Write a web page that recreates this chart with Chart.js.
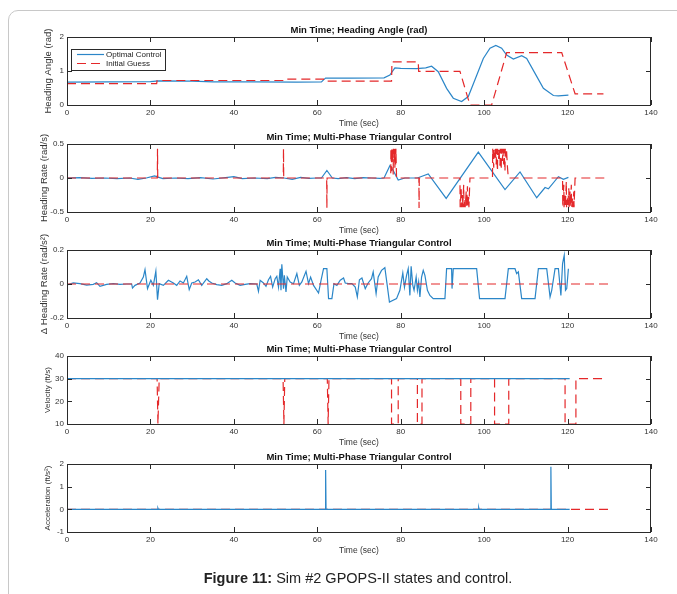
<!DOCTYPE html>
<html><head><meta charset="utf-8">
<script src="https://cdn.jsdelivr.net/npm/chart.js@4.4.0/dist/chart.umd.min.js"></script>
<style>
body{margin:0;background:#fff;width:677px;height:594px;overflow:hidden;position:relative;font-family:"Liberation Sans",Arial,sans-serif}
#frame{position:absolute;left:8px;top:10px;width:720px;height:640px;border:1px solid #c8c8c8;border-radius:10px}
canvas{position:absolute;left:0}
#cap{position:absolute;left:0;width:716px;top:570px;text-align:center;font-size:14.5px;color:#222}
</style></head>
<body>
<div id="frame"></div>
<canvas id="c1" width="677" height="112" style="top:20px"></canvas>
<canvas id="c2" width="677" height="112" style="top:127px"></canvas>
<canvas id="c3" width="677" height="112" style="top:233px"></canvas>
<canvas id="c4" width="677" height="112" style="top:339px"></canvas>
<canvas id="c5" width="677" height="112" style="top:447px"></canvas>
<div id="cap"><b>Figure 11:</b> Sim #2 GPOPS-II states and control.</div>
<script>
// ---- data ----
const angleT=[0,10,20,22,30,35,45,55,61,61.5,62,68,76,77.4,78.6,80,83.8,86,87.4,89,91,92.6,94.6,96.2,97.8,99.8,101.4,102.8,104.2,105.4,107,109,110.2,112.2,114.2,116.6,117.8,120.2];
const angleOpt=[0.67,0.68,0.69,0.71,0.70,0.68,0.68,0.67,0.68,0.74,0.79,0.79,0.80,0.88,1.09,1.08,1.07,1.09,1.14,0.98,0.49,0.2,0.1,0.25,0.74,1.37,1.67,1.75,1.67,1.47,1.35,1.45,1.37,0.93,0.49,0.28,0.27,0.29];
const angleGuessT=[0,21.5,21.6,51.9,52.0,61.5,61.6,77.8,77.9,84.2,84.3,94.2,96.6,101.8,105.4,118.6,121.8,128.6];
const angleGuess=[0.63,0.63,0.72,0.72,0.76,0.76,0.70,0.70,1.27,1.27,0.99,0.99,0,0,1.54,1.54,0.33,0.33];

const rateT=[0,3,6,9,12,15,17,19,21,22,23,26,29,32,35,38,40,42,45,48,50,52,54,56,58,60,61,62.3,63.6,65,67,69,71,73,75,76,77.4,78.2,79.4,81,84,86.6,90.9,98.6,105,108.6,112.6,114.6,115.4,117.8,119,120.2];
const rateOpt=[0,0.005,-0.005,0,-0.01,0,-0.02,0,0.03,0.01,-0.01,0,-0.01,0.005,-0.015,0.005,0.02,-0.01,0,-0.01,0.01,0,-0.02,0.01,-0.005,0,0,0.11,0,-0.01,0.005,-0.01,0.005,0,-0.005,0,0.18,0.11,-0.03,0,0,0.06,-0.30,0.38,-0.17,0.09,-0.29,-0.14,-0.16,0.02,-0.02,0.01];
const rateGuessT=[0,21.65,21.7,21.75,51.85,51.9,51.95,62.25,62.3,62.35,
 77.6,77.65,77.8,77.85,78.0,78.05,78.2,78.25,78.4,78.45,78.6,78.65,78.8,78.85,79.0,
 84.35,84.4,84.45,
 94.2,94.25,94.5,94.55,94.8,94.85,95.1,95.15,95.4,95.45,95.7,95.75,96.0,96.05,96.3,96.35,96.6,
 102.0,102.05,102.3,102.35,102.6,102.65,102.9,102.95,103.2,103.25,103.5,103.55,103.8,103.85,104.1,104.15,104.4,104.45,104.7,104.75,105.0,105.05,105.3,105.35,105.6,105.8,
 118.8,118.85,119.1,119.15,119.4,119.45,119.7,119.75,120.0,120.05,120.3,120.35,120.6,120.65,120.9,120.95,121.2,121.25,121.5,121.55,121.8,130];
const rateGuess=[0,0,0.43,0,0,0.43,0,0,-0.44,0,
 0,0.43,0.1,0.43,0.25,0.43,0.05,0.43,0.3,0.43,0.15,0.43,0.2,0.43,0,
 0,-0.44,0,
 0,-0.43,-0.15,-0.43,-0.25,-0.43,-0.1,-0.43,-0.3,-0.43,-0.2,-0.43,-0.12,-0.43,-0.28,-0.43,0,
 0,0.43,0.15,0.43,0.3,0.43,0.2,0.43,0.1,0.43,0.28,0.43,0.18,0.43,0.12,0.43,0.25,0.43,0.2,0.43,0.1,0.43,0.3,0.43,0.15,0,
 0,-0.43,-0.1,-0.43,-0.25,-0.43,-0.05,-0.43,-0.3,-0.43,-0.15,-0.43,-0.2,-0.43,-0.1,-0.43,-0.3,-0.43,-0.2,-0.43,0,0];

const drateT=[0.3,1.5,3.1,4.7,6.3,7.1,7.9,9.5,11.1,12.7,14.3,15.5,15.7,16.3,17.5,18.3,18.7,19.3,20.1,20.7,21.3,21.7,22.1,23.1,24.3,25.5,26.3,27.1,27.9,28.7,29.3,29.9,30.7,31.5,32.3,33.5,34.0,34.7,35.9,37.1,38.3,39.5,40.3,41.5,42.7,43.9,45.5,45.9,46.3,47.1,47.7,48.3,48.8,49.3,49.9,50.3,50.7,51.1,51.3,51.5,51.9,52.1,52.5,52.8,53.5,54.3,55.1,55.7,56.3,57.3,57.9,58.4,59.1,60.3,60.9,61.5,62.3,62.7,63.5,64.0,64.7,65.5,66.3,66.7,67.5,68.3,69.1,69.6,70.1,70.7,71.5,72.2,73.0,73.4,74.1,74.6,75.4,76.2,77.3,79.0,79.8,80.5,80.9,81.4,81.8,82.2,82.5,82.9,83.2,83.7,84.0,84.3,84.6,85.0,85.4,85.8,86.4,87.0,87.8,89.4,90.6,91.0,92.2,92.3,92.6,98.2,98.9,105.0,105.8,107.4,107.8,108.2,109.0,112.2,113.0,115.0,115.8,116.2,117.0,117.8,118.4,118.8,119.2,119.5,119.8,120.2];
const drateOpt=[-0.004,0.006,0.002,-0.006,-0.002,0.008,-0.014,-0.002,0.002,-0.002,0,0,-0.024,-0.008,0.006,0.041,0.084,-0.027,0.022,-0.008,0.076,-0.092,0.002,-0.008,0.022,0.006,-0.008,0.018,0.006,0.045,-0.033,0.006,0.012,0.025,-0.008,0.031,0.018,0.006,-0.004,-0.008,0.002,0.022,0.006,-0.008,-0.002,0.002,0,-0.043,0.022,0.006,-0.014,0.025,0.045,-0.018,0.031,0.045,-0.018,0.09,-0.037,0.116,-0.027,0.051,-0.047,0.041,0.012,0.002,0.061,-0.008,0.012,0.075,0.002,0.041,-0.008,-0.053,0.022,0.09,0.09,-0.086,-0.086,0.002,-0.008,0.022,0.035,0.006,0.002,0.002,-0.018,-0.076,0.025,0.035,-0.027,0.006,0.031,0.071,-0.057,0.041,0.08,0.096,-0.106,-0.086,-0.037,0.065,-0.018,0.051,0.09,-0.067,0.104,-0.008,-0.037,0.041,-0.037,0.012,-0.076,0.041,0.08,0.051,-0.037,-0.067,-0.086,-0.086,-0.086,0.09,0.09,-0.027,0.09,0.09,-0.086,-0.086,0.09,0.09,0.061,0.071,-0.086,-0.086,0.09,0.09,-0.076,-0.037,0.09,0.09,-0.067,0.12,0.169,-0.037,-0.027,0.09];
const drateGuessT=[0,130];
const drateGuess=[0,0];

const velT=[0,120.5];
const velOpt=[30,30];
const velGuessT=[0,21.6,21.8,22.1,51.8,52.0,52.2,62.4,62.6,62.8,77.8,77.8,79.4,79.4,84.0,84.0,85.1,85.1,94.4,94.4,96.8,96.8,102.5,102.5,105.9,105.9,119.4,119.4,122.0,122.0,129.3];
const velGuess=[30,30,10,30,30,10,30,30,10,30,30,10,10,30,30,10,10,30,30,10,10,30,30,10,10,30,30,10,10,30,30];

const accT=[0,21.7,21.8,21.9,61.9,62.0,62.1,98.6,98.7,98.8,115.9,116.0,116.1,120.5];
const accOpt=[0,0,0.05,0,0,1.73,0,0,0.08,0,0,1.88,0,0];
const accGuessT=[0,130];
const accGuess=[0,0];

const xTicks=[0,20,40,60,80,100,120,140];

// ---- drawing ----
const BLUE='#2b86c8',RED='#e4282a',INK='#2a2a2a',FONT='"Liberation Sans", Arial, sans-serif';
const pts=(t,v)=>t.map((x,i)=>({x,y:v[i]}));
function series(label,t,v,color,dash,order){
  return {label,data:pts(t,v),borderColor:color,borderWidth:1.2,borderDash:dash,pointRadius:0,tension:0,fill:false,order};
}

const framePlugin={id:'frame',afterDraw(c,args,o){
  const {ctx,chartArea:{left,right,top,bottom},scales:{x,y}}=c;
  ctx.save();
  ctx.strokeStyle=INK;ctx.lineWidth=1;
  ctx.strokeRect(left+.5,top+.5,right-left-1,bottom-top);
  ctx.beginPath();
  x.ticks.forEach(t=>{const p=Math.round(x.getPixelForValue(t.value))+.5;
    ctx.moveTo(p,bottom);ctx.lineTo(p,bottom-5);ctx.moveTo(p,top);ctx.lineTo(p,top+5);});
  y.ticks.forEach(t=>{const p=Math.round(y.getPixelForValue(t.value))+.5;
    ctx.moveTo(left,p);ctx.lineTo(left+5,p);ctx.moveTo(right,p);ctx.lineTo(right-5,p);});
  ctx.stroke();
  const cx=(left+right)/2;
  ctx.fillStyle='#111';ctx.textAlign='center';
  ctx.font='bold 9.5px '+FONT;ctx.textBaseline='alphabetic';
  ctx.fillText(o.title,cx,top-4);
  ctx.fillStyle='#333';ctx.font='8.5px '+FONT;ctx.textBaseline='middle';
  ctx.fillText('Time (sec)',cx,bottom+19);
  ctx.save();ctx.translate(o.ylx,(top+bottom)/2);ctx.rotate(-Math.PI/2);
  ctx.font=o.ys+'px '+FONT;ctx.fillText(o.ylabel,0,0);ctx.restore();
  if(o.legend){
    const bx=left+4,by=top+12;
    ctx.fillStyle='#fff';ctx.fillRect(bx,by,94,21);
    ctx.strokeStyle=INK;ctx.strokeRect(bx+.5,by+.5,94,21);
    c.data.datasets.forEach((d,i)=>{
      const yy=by+5.5+i*9;
      ctx.strokeStyle=d.borderColor;ctx.lineWidth=1.2;ctx.setLineDash(d.borderDash);
      ctx.beginPath();ctx.moveTo(bx+6,yy);ctx.lineTo(bx+33,yy);ctx.stroke();
      ctx.setLineDash([]);
      ctx.fillStyle='#222';ctx.font='8px '+FONT;ctx.textAlign='left';
      ctx.fillText(d.label,bx+35,yy);
    });
  }
  ctx.restore();
}};

function makeChart(id,datasets,ymin,ymax,ystep,frame){
  return new Chart(document.getElementById(id),{
    type:'line',
    data:{datasets},
    plugins:[framePlugin],
    options:{
      responsive:false,animation:false,devicePixelRatio:1,
      layout:{padding:{left:0,right:26,top:17,bottom:0}},
      plugins:{legend:{display:false},tooltip:{enabled:false},frame},
      scales:{
        x:{type:'linear',min:0,max:140,afterBuildTicks:s=>{s.ticks=xTicks.map(v=>({value:v}));},
          afterFit:s=>{s.height=27;},
          grid:{display:false,drawTicks:false},border:{display:false},
          ticks:{font:{family:FONT,size:8},color:'#333',padding:3,maxRotation:0}},
        y:{type:'linear',min:ymin,max:ymax,
          afterFit:s=>{s.width=67;},
          grid:{display:false,drawTicks:false},border:{display:false},
          ticks:{stepSize:ystep,font:{family:FONT,size:8},color:'#333',padding:3}}
      }
    }
  });
}

const DASH=[9,5];
makeChart('c1',[
  series('Optimal Control',angleT,angleOpt,BLUE,[],1),
  series('Initial Guess',angleGuessT,angleGuess,RED,DASH,0)
],0,2,1,{title:'Min Time; Heading Angle (rad)',ylabel:'Heading Angle (rad)',ys:9.5,ylx:48,legend:true});

makeChart('c2',[
  series('Optimal Control',rateT,rateOpt,BLUE,[],1),
  series('Initial Guess',rateGuessT,rateGuess,RED,DASH,0)
],-0.5,0.5,0.5,{title:'Min Time; Multi-Phase Triangular Control',ylabel:'Heading Rate (rad/s)',ys:9.5,ylx:44});

makeChart('c3',[
  series('Optimal Control',drateT,drateOpt,BLUE,[],1),
  series('Initial Guess',drateGuessT,drateGuess,RED,DASH,0)
],-0.2,0.2,0.2,{title:'Min Time; Multi-Phase Triangular Control',ylabel:'\u0394 Heading Rate (rad/s\u00b2)',ys:9.5,ylx:44});

makeChart('c4',[
  series('Optimal Control',velT,velOpt,BLUE,[],0),
  series('Initial Guess',velGuessT,velGuess,RED,DASH,1)
],10,40,10,{title:'Min Time; Multi-Phase Triangular Control',ylabel:'Velocity (ft/s)',ys:8,ylx:48});

makeChart('c5',[
  series('Optimal Control',accT,accOpt,BLUE,[],0),
  series('Initial Guess',accGuessT,accGuess,RED,DASH,1)
],-1,2,1,{title:'Min Time; Multi-Phase Triangular Control',ylabel:'Acceleration (ft/s\u00b2)',ys:8,ylx:48});
</script>
</body></html>
